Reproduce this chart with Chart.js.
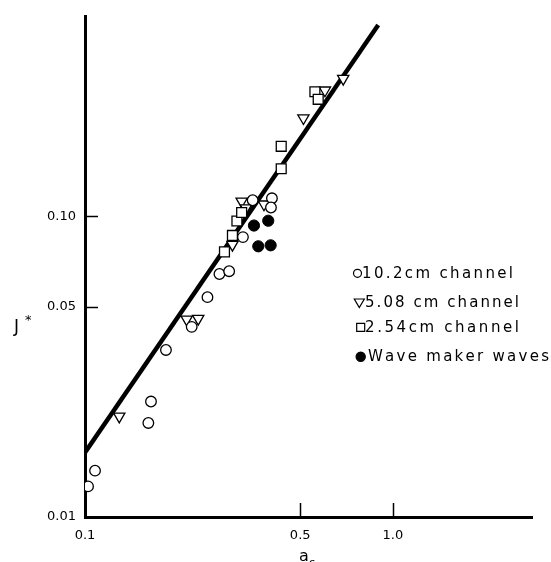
<!DOCTYPE html>
<html><head><meta charset="utf-8">
<script src="https://cdn.jsdelivr.net/npm/chart.js@4.4.1/dist/chart.umd.min.js"></script>
<style>html,body{margin:0;padding:0;background:#fff;}#wrap{width:551px;height:562px;}</style>
</head><body><div id="wrap"><canvas id="c" width="551" height="562"></canvas></div>
<script>
// ---- data ----
const xTickValues = [0.1, 0.5, 1.0];
const xTickLabels = ['0.1', '0.5', '1.0'];
const yTickValues = [0.01, 0.05, 0.10];
const yTickLabels = ['0.01', '0.05', '0.10'];
const seriesNames = ['10.2cm channel', '5.08 cm channel', '2.54cm channel', 'Wave maker waves'];

const ch102X = [0.1023, 0.1078, 0.1606, 0.1638, 0.1832, 0.2221, 0.2499, 0.2733, 0.2939, 0.3258, 0.3504, 0.4047, 0.4018];
const ch102Y = [0.01264, 0.01426, 0.02055, 0.02421, 0.03594, 0.0429, 0.05385, 0.0643, 0.0657, 0.0853, 0.1131, 0.1148, 0.1070];

const ch508X = [0.1292, 0.2139, 0.2332, 0.3012, 0.3227, 0.3332, 0.3813, 0.5121, 0.6016, 0.6897];
const ch508Y = [0.02161, 0.04544, 0.04568, 0.0805, 0.1122, 0.1065, 0.1097, 0.2123, 0.2627, 0.2870];

const ch254X = [0.2838, 0.3012, 0.3115, 0.3227, 0.4338, 0.4338, 0.5581, 0.5720];
const ch254Y = [0.0762, 0.0864, 0.0965, 0.1030, 0.1440, 0.1710, 0.2597, 0.2451];

const waveX = [0.3538, 0.3937, 0.3654, 0.4008];
const waveY = [0.0932, 0.0967, 0.0795, 0.0801];

const fitX = [0.1, 0.896];
const fitY = [0.01638, 0.4331];

const xMin = 0.1, xMax = 2.83, yMin = 0.01, yMax = 0.461;
// -------------------------------------

const pts = (xs, ys) => xs.map((x, i) => ({x: x, y: ys[i]}));
const FONT = '"DejaVu Sans", sans-serif';

function drawSpaced(ctx, text, x, y, targetW) {
  const chars = Array.from(text);
  const widths = chars.map(c => ctx.measureText(c).width);
  const w = widths.reduce((a, b) => a + b, 0);
  const ls = chars.length > 1 ? (targetW - w) / (chars.length - 1) : 0;
  let cx = x;
  chars.forEach((c, i) => { ctx.fillText(c, cx, y); cx += widths[i] + ls; });
}

const decorPlugin = {
  id: 'decor',
  beforeDatasetsDraw(chart) {
    const ctx = chart.ctx, xs = chart.scales.x, ys = chart.scales.y, ca = chart.chartArea;
    ctx.save();
    ctx.strokeStyle = '#000';
    ctx.lineWidth = 1.5;
    xTickValues.slice(1).forEach(v => {
      const px = Math.round(xs.getPixelForValue(v)) + 0.5;
      ctx.beginPath(); ctx.moveTo(px, ca.bottom); ctx.lineTo(px, ca.bottom - 14); ctx.stroke();
    });
    yTickValues.slice(1).forEach(v => {
      const py = Math.round(ys.getPixelForValue(v)) + 0.5;
      ctx.beginPath(); ctx.moveTo(ca.left, py); ctx.lineTo(ca.left + 13, py); ctx.stroke();
    });
    ctx.restore();
  },
  afterDraw(chart) {
    const ctx = chart.ctx;
    ctx.save();
    ctx.fillStyle = '#000';
    ctx.strokeStyle = '#000';
    // axis titles
    ctx.textBaseline = 'alphabetic';
    ctx.textAlign = 'left';
    ctx.font = '17px ' + FONT;
    ctx.fillText('J', 14, 332);
    ctx.font = '13px ' + FONT;
    ctx.fillText('*', 25, 324);
    ctx.font = '16px ' + FONT;
    ctx.fillText('a', 299, 561);
    ctx.font = '11px ' + FONT;
    ctx.fillText('c', 309, 566);

    // legend
    const items = [
      {style: 'circle', fill: '#fff', mx: 357.5, my: 273.3, r: 4, tx: 362, tw: 151},
      {style: 'tri', fill: '#fff', mx: 359.3, my: 303, r: 5, tx: 365, tw: 154},
      {style: 'rect', fill: '#fff', mx: 360.7, my: 327.3, r: 4, tx: 365, tw: 154},
      {style: 'circle', fill: '#000', mx: 360.7, my: 356.7, r: 4.6, tx: 368, tw: 181}
    ];
    ctx.font = '15px ' + FONT;
    ctx.textBaseline = 'middle';
    items.forEach((it, i) => {
      ctx.lineWidth = 1.2;
      ctx.fillStyle = it.fill;
      ctx.beginPath();
      if (it.style === 'circle') {
        ctx.arc(it.mx, it.my, it.r, 0, Math.PI * 2);
      } else if (it.style === 'rect') {
        ctx.rect(it.mx - it.r, it.my - it.r, it.r * 2, it.r * 2);
      } else {
        ctx.moveTo(it.mx - it.r, it.my - it.r * 0.8);
        ctx.lineTo(it.mx + it.r, it.my - it.r * 0.8);
        ctx.lineTo(it.mx, it.my + it.r * 0.9);
        ctx.closePath();
      }
      ctx.fill(); ctx.stroke();
      ctx.fillStyle = '#000';
      drawSpaced(ctx, seriesNames[i], it.tx, it.my + 0.5, it.tw);
    });
    ctx.restore();
  }
};

new Chart(document.getElementById('c'), {
  type: 'scatter',
  data: {
    datasets: [
      {
        type: 'line', label: 'fit', data: pts(fitX, fitY), order: 10,
        borderColor: '#000', borderWidth: 4.5, pointRadius: 0, fill: false, tension: 0
      },
      {
        label: seriesNames[2], data: pts(ch254X, ch254Y), order: 1,
        pointStyle: 'rect', pointRadius: 7, borderColor: '#000', backgroundColor: '#fff', borderWidth: 1.3
      },
      {
        label: seriesNames[0], data: pts(ch102X, ch102Y), order: 2,
        pointStyle: 'circle', pointRadius: 5.3, borderColor: '#000', backgroundColor: '#fff', borderWidth: 1.3
      },
      {
        label: seriesNames[1], data: pts(ch508X, ch508Y), order: 3,
        pointStyle: 'triangle', rotation: 180, pointRotation: 180, pointRadius: 6.5, borderColor: '#000', backgroundColor: '#fff', borderWidth: 1.3
      },
      {
        label: seriesNames[3], data: pts(waveX, waveY), order: 4,
        pointStyle: 'circle', pointRadius: 5.6, borderColor: '#000', backgroundColor: '#000', borderWidth: 1
      }
    ]
  },
  options: {
    responsive: false,
    animation: false,
    devicePixelRatio: 1,
    layout: {padding: {top: 10, right: 19, left: 0, bottom: 0}},
    plugins: {legend: {display: false}, tooltip: {enabled: false}, title: {display: false}},
    scales: {
      x: {
        type: 'logarithmic', min: xMin, max: xMax, position: 'bottom',
        afterFit(s) { s.height = 45; },
        afterBuildTicks(s) { s.ticks = xTickValues.map(v => ({value: v})); },
        ticks: {
          callback: (v, i) => xTickLabels[i], color: '#000', padding: 11,
          font: {family: FONT, size: 13}, maxRotation: 0, autoSkip: false
        },
        grid: {display: false, drawTicks: false},
        border: {display: true, color: '#000', width: 3}
      },
      y: {
        type: 'logarithmic', min: yMin, max: yMax, position: 'left',
        afterFit(s) { s.width = 85; },
        afterBuildTicks(s) { s.ticks = yTickValues.map(v => ({value: v})); },
        ticks: {
          callback: (v, i) => yTickLabels[i], color: '#000', padding: 9,
          font: {family: FONT, size: 13}, autoSkip: false
        },
        grid: {display: false, drawTicks: false},
        border: {display: true, color: '#000', width: 3}
      }
    }
  },
  plugins: [decorPlugin]
});
</script>
</body></html>
